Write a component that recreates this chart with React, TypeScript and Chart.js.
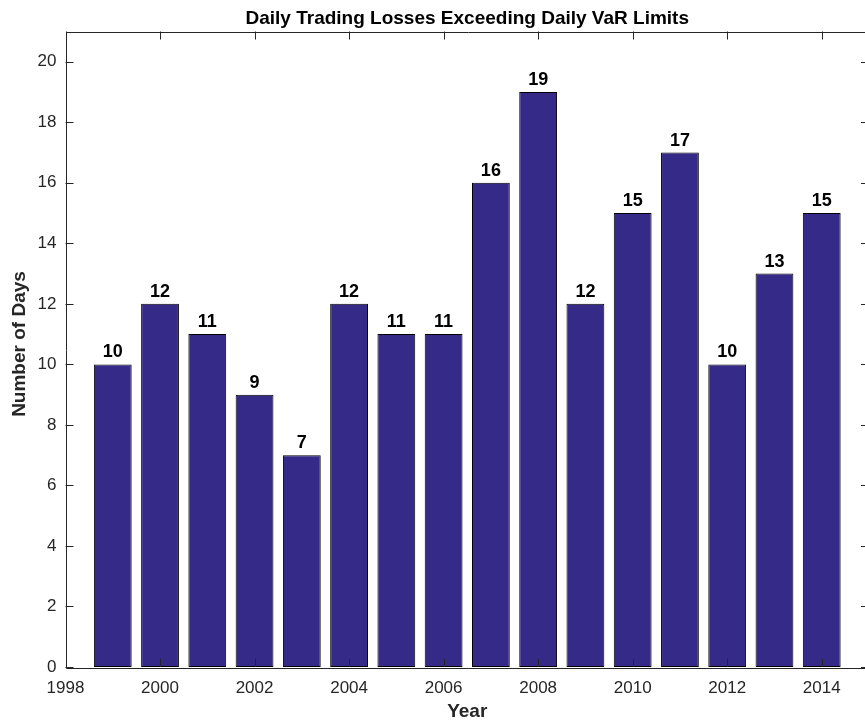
import React, { useEffect, useRef } from "react";
import { Chart, registerables } from "chart.js";

Chart.register(...registerables);

const years = [1999, 2000, 2001, 2002, 2003, 2004, 2005, 2006, 2007, 2008, 2009, 2010, 2011, 2012, 2013, 2014];
const days = [10, 12, 11, 9, 7, 12, 11, 11, 16, 19, 12, 15, 17, 10, 13, 15];
const xTicks = [1998, 2000, 2002, 2004, 2006, 2008, 2010, 2012, 2014];
const yTicks = [0, 2, 4, 6, 8, 10, 12, 14, 16, 18, 20];
const titleText = "Daily Trading Losses Exceeding Daily VaR Limits";
const xLabel = "Year";
const yLabel = "Number of Days";

const FONT = "'Liberation Sans', Arial, Helvetica, sans-serif";
const AXIS_COLOR = "#262626";

const decorPlugin = {
  id: "matlabDecor",
  afterDatasetsDraw(chart: any) {
    const ctx = chart.ctx;
    const { left, right, top, bottom } = chart.chartArea;
    const xs = chart.scales.x;
    const ys = chart.scales.y;
    ctx.save();
    // box
    ctx.strokeStyle = AXIS_COLOR;
    ctx.lineWidth = 1;
    ctx.beginPath();
    ctx.rect(Math.round(left) + 0.5, Math.round(top) + 0.5, Math.round(right - left), Math.round(bottom - top));
    ctx.stroke();
    const tl = 8;
    ctx.beginPath();
    xTicks.forEach((v) => {
      const px = Math.round(xs.getPixelForValue(v)) + 0.5;
      ctx.moveTo(px, bottom);
      ctx.lineTo(px, bottom - tl);
      ctx.moveTo(px, top);
      ctx.lineTo(px, top + tl);
    });
    yTicks.forEach((v) => {
      const py = Math.round(ys.getPixelForValue(v)) + 0.5;
      ctx.moveTo(left, py);
      ctx.lineTo(left + tl, py);
      ctx.moveTo(right, py);
      ctx.lineTo(right - tl, py);
    });
    ctx.stroke();
    // tick labels
    ctx.fillStyle = AXIS_COLOR;
    ctx.font = `17px ${FONT}`;
    ctx.textAlign = "center";
    ctx.textBaseline = "middle";
    xTicks.forEach((v) => {
      ctx.fillText(String(v), xs.getPixelForValue(v), bottom + 21);
    });
    ctx.textAlign = "right";
    yTicks.forEach((v) => {
      ctx.fillText(String(v), left - 9, ys.getPixelForValue(v));
    });
    // axis labels
    ctx.font = `bold 19px ${FONT}`;
    ctx.textAlign = "center";
    ctx.textBaseline = "middle";
    ctx.fillText(xLabel, (left + right) / 2, bottom + 45);
    ctx.save();
    ctx.translate(20, 344);
    ctx.rotate(-Math.PI / 2);
    ctx.fillText(yLabel, 0, 0);
    ctx.restore();
    // title
    ctx.fillStyle = "#000";
    ctx.textBaseline = "alphabetic";
    ctx.fillText(titleText, (left + right) / 2, 24);
    // data labels
    ctx.font = `bold 18px ${FONT}`;
    ctx.textBaseline = "alphabetic";
    const meta = chart.getDatasetMeta(0);
    meta.data.forEach((bar: any, i: number) => {
      ctx.fillText(String(days[i]), bar.x, bar.y - 7);
    });
    ctx.restore();
  },
};

export default function App() {
  const ref = useRef<HTMLCanvasElement>(null);
  useEffect(() => {
    if (!ref.current) return;
    const chart = new Chart(ref.current, {
      type: "bar",
      data: {
        datasets: [
          {
            data: years.map((y, i) => ({ x: y, y: days[i] })),
            backgroundColor: "#352a87",
            borderColor: "#000000",
            borderWidth: 1,
            borderSkipped: false,
            barPercentage: 0.8,
            categoryPercentage: 1,
          },
        ],
      },
      options: {
        animation: false,
        responsive: false,
        devicePixelRatio: 1,
        layout: { padding: { left: 65.5, top: 31.5, right: 11, bottom: 58 } },
        plugins: { legend: { display: false }, tooltip: { enabled: false }, title: { display: false } },
        scales: {
          x: { type: "linear", min: 1998, max: 2015, display: false, offset: false },
          y: { type: "linear", min: 0, max: 21, display: false },
        },
      },
      plugins: [decorPlugin],
    });
    return () => chart.destroy();
  }, []);
  return (
    <div style={{ position: "fixed", left: 0, top: 0, width: 865, height: 725, overflow: "hidden", background: "#fff" }}>
      <canvas ref={ref} width={880} height={725} style={{ width: 880, height: 725, display: "block" }} />
    </div>
  );
}
